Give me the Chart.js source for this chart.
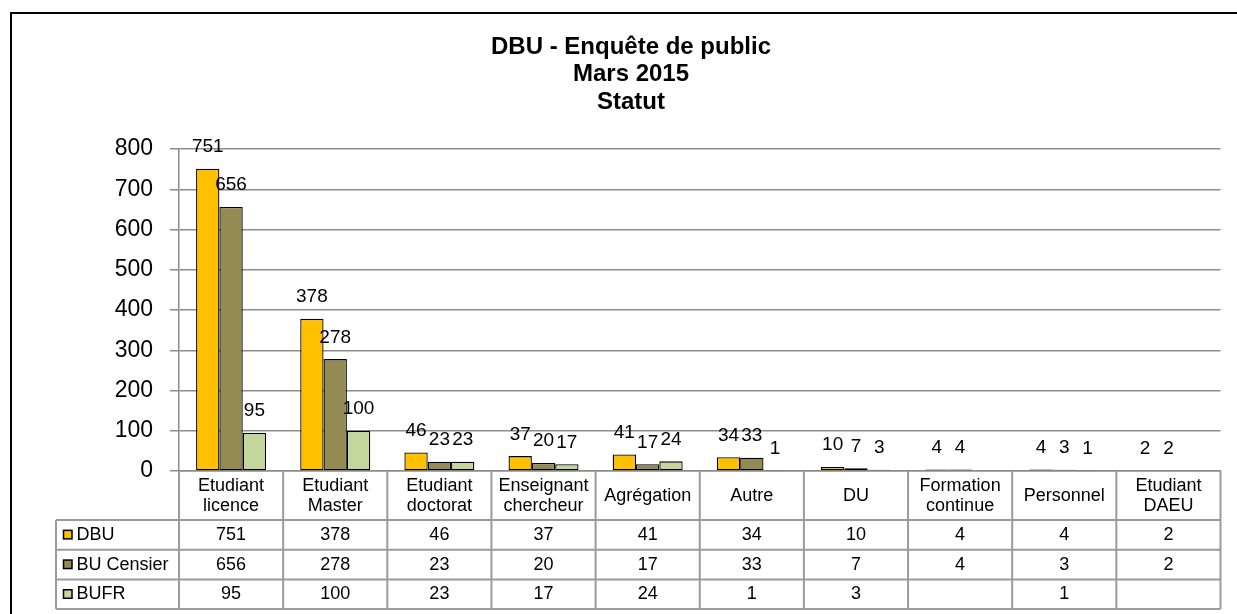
<!DOCTYPE html>
<html>
<head>
<meta charset="utf-8">
<script src="https://cdn.jsdelivr.net/npm/chart.js@4.4.1/dist/chart.umd.min.js"></script>
<style>
  html, body { margin: 0; padding: 0; background: #fff; }
  canvas { display: block; }
</style>
</head>
<body>
<canvas id="statutChart" width="1237" height="614"></canvas>
<script>
// --- DATA ---
const categories = [
    ['Etudiant', 'licence'], ['Etudiant', 'Master'], ['Etudiant', 'doctorat'],
    ['Enseignant', 'chercheur'], 'Agrégation', 'Autre', 'DU',
    ['Formation', 'continue'], 'Personnel', ['Etudiant', 'DAEU']
];
const seriesNames = ['DBU', 'BU Censier', 'BUFR'];
const dbuValues = [751, 378, 46, 37, 41, 34, 10, 4, 4, 2];
const censierValues = [656, 278, 23, 20, 17, 33, 7, 4, 3, 2];
const bufrValues = [95, 100, 23, 17, 24, 1, 3, null, 1, null];
const yTicks = [0, 100, 200, 300, 400, 500, 600, 700, 800];
const titleLines = ['DBU - Enquête de public', 'Mars 2015', 'Statut'];

const seriesColors = ['#FFC000', '#948A54', '#C3D69B'];
const FONT = '"Liberation Sans", Arial, sans-serif';

Chart.defaults.font.family = FONT;
Chart.defaults.color = '#000';

// value labels above each bar
const barValueLabels = {
    id: 'barValueLabels',
    afterDatasetsDraw(chart) {
        const ctx = chart.ctx;
        ctx.save();
        ctx.font = '19px ' + FONT;
        ctx.fillStyle = '#000';
        ctx.textAlign = 'center';
        ctx.textBaseline = 'alphabetic';
        chart.data.datasets.forEach((ds, di) => {
            chart.getDatasetMeta(di).data.forEach((bar, i) => {
                const v = ds.data[i];
                if (v === null) return;
                ctx.fillText(String(v), bar.x, bar.y - 16.5);
            });
        });
        ctx.restore();
    }
};

// data table under the axis + outer frame
const dataTable = {
    id: 'dataTable',
    afterDraw(chart) {
        const ctx = chart.ctx;
        const xs = chart.scales.x;
        const area = chart.chartArea;
        const step = xs.getPixelForValue(1) - xs.getPixelForValue(0);
        const colLeft = i => xs.getPixelForValue(i) - step / 2;
        const headerBottom = area.bottom + 49;
        const rowH = 29.7;
        const tableLeft = 56;
        const tableRight = colLeft(categories.length);
        const tableBottom = headerBottom + rowH * seriesNames.length;

        ctx.save();
        ctx.strokeStyle = '#9b9b9b';
        ctx.lineWidth = 2;
        ctx.beginPath();
        for (let i = 0; i <= categories.length; i++) {
            const px = colLeft(i);
            ctx.moveTo(px, area.bottom);
            ctx.lineTo(px, tableBottom);
        }
        for (let r = 0; r <= seriesNames.length; r++) {
            const py = headerBottom + r * rowH;
            ctx.moveTo(tableLeft, py);
            ctx.lineTo(tableRight, py);
        }
        ctx.moveTo(tableLeft, headerBottom);
        ctx.lineTo(tableLeft, tableBottom);
        ctx.stroke();

        ctx.font = '18px ' + FONT;
        ctx.textBaseline = 'middle';
        chart.data.datasets.forEach((ds, di) => {
            const cy = headerBottom + rowH * di + rowH / 2;
            // legend key
            ctx.fillStyle = seriesColors[di];
            ctx.fillRect(63.5, cy - 4.5, 8.5, 8.5);
            ctx.strokeStyle = '#000';
            ctx.lineWidth = 1.5;
            ctx.strokeRect(63.5, cy - 4.5, 8.5, 8.5);
            ctx.fillStyle = '#000';
            ctx.textAlign = 'left';
            ctx.fillText(ds.label, 76.5, cy);
            ctx.textAlign = 'center';
            ds.data.forEach((v, i) => {
                if (v === null) return;
                ctx.fillText(String(v), xs.getPixelForValue(i), cy);
            });
        });

        // outer frame (only top & left edges are inside the picture)
        ctx.strokeStyle = '#000';
        ctx.lineWidth = 2;
        ctx.beginPath();
        ctx.moveTo(11, chart.height);
        ctx.lineTo(11, 13);
        ctx.lineTo(chart.width, 13);
        ctx.stroke();
        ctx.restore();
    }
};

const ctx = document.getElementById('statutChart');
new Chart(ctx, {
    type: 'bar',
    data: {
        labels: categories,
        datasets: [
            { label: seriesNames[0], data: dbuValues, backgroundColor: seriesColors[0] },
            { label: seriesNames[1], data: censierValues, backgroundColor: seriesColors[1] },
            { label: seriesNames[2], data: bufrValues, backgroundColor: seriesColors[2] }
        ].map(d => Object.assign(d, {
            borderColor: '#000',
            borderWidth: 1.3,
            borderSkipped: false,
            categoryPercentage: 0.672,
            barPercentage: 1.0
        }))
    },
    options: {
        responsive: false,
        animation: false,
        devicePixelRatio: 1,
        layout: { padding: { top: 13, left: 41.5, right: 16.5, bottom: 5 } },
        plugins: {
            legend: { display: false },
            tooltip: { enabled: false },
            title: {
                display: true,
                text: titleLines,
                color: '#000',
                font: { size: 24, weight: 'bold', lineHeight: 1.15 },
                padding: { top: 20.4, bottom: 32.8 }
            }
        },
        scales: {
            x: {
                grid: { display: false },
                border: { display: true, color: '#8c8c8c', width: 1.5 },
                ticks: {
                    color: '#000',
                    font: { size: 18, lineHeight: 1.111 },
                    padding: 7,
                    crossAlign: 'center',
                    maxRotation: 0,
                    autoSkip: false
                },
                afterFit: scale => { scale.height = 138; }
            },
            y: {
                min: yTicks[0],
                max: yTicks[yTicks.length - 1],
                grid: { color: '#8c8c8c', lineWidth: 1.5, tickLength: 9 },
                border: { display: true, color: '#8c8c8c', width: 1.5 },
                ticks: {
                    stepSize: yTicks[1] - yTicks[0],
                    color: '#000',
                    font: { size: 23 },
                    padding: 17
                },
                afterFit: scale => { scale.width = 137.5; }
            }
        }
    },
    plugins: [barValueLabels, dataTable]
});
</script>
</body>
</html>
